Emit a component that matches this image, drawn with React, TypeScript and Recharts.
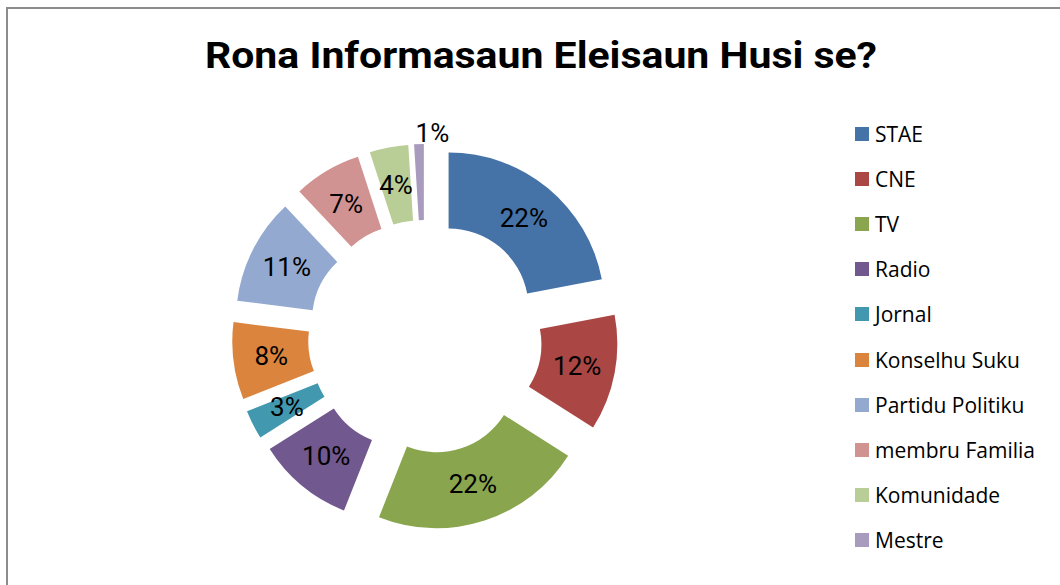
import React from 'react';
import { PieChart, Pie, Cell, Sector, Legend } from 'recharts';

const categories = [
  'STAE',
  'CNE',
  'TV',
  'Radio',
  'Jornal',
  'Konselhu Suku',
  'Partidu Politiku',
  'membru Familia',
  'Komunidade',
  'Mestre',
];
const shares = [22, 12, 22, 10, 3, 8, 11, 7, 4, 1];
const colors = [
  '#4572A7',
  '#AA4643',
  '#89A54E',
  '#71588F',
  '#4198AF',
  '#DB843D',
  '#93A9CF',
  '#D19392',
  '#B9CD96',
  '#A99BBD',
];
const title = 'Rona Informasaun Eleisaun Husi se?';

const data = categories.map((name, i) => ({ name, value: shares[i] }));

const RADIAN = Math.PI / 180;
const EXPLODE = 37;
const labelFont = 'Roboto, "Noto Sans", sans-serif';
const legendFont = '"Open Sans", "Noto Sans", sans-serif';

function offset(midAngle: number, r: number) {
  return {
    dx: r * Math.cos(-midAngle * RADIAN),
    dy: r * Math.sin(-midAngle * RADIAN),
  };
}

// each slice pushed out along its bisector
function ExplodedSlice(props: any) {
  const { dx, dy } = offset(props.midAngle, EXPLODE);
  return (
    <Sector
      cx={props.cx + dx}
      cy={props.cy + dy}
      innerRadius={props.innerRadius}
      outerRadius={props.outerRadius}
      startAngle={props.startAngle}
      endAngle={props.endAngle}
      fill={props.fill}
      stroke="none"
    />
  );
}

function SliceLabel(props: any) {
  const { cx, cy, midAngle, innerRadius, outerRadius, percent } = props;
  const small = percent < 0.02;
  const r = small ? EXPLODE + outerRadius + 11 : EXPLODE + (innerRadius + outerRadius) / 2;
  const { dx, dy } = offset(midAngle, r);
  return (
    <text
      x={small ? cx + dx - 3 : cx + dx}
      y={cy + dy}
      fill="#000"
      textAnchor={small ? 'start' : 'middle'}
      dominantBaseline="central"
      style={{ fontFamily: labelFont, fontSize: 26 }}
    >
      {`${Math.round(percent * 100)}%`}
    </text>
  );
}

function LegendList({ payload }: any) {
  const items = [...(payload || [])].sort(
    (a: any, b: any) => categories.indexOf(a.value) - categories.indexOf(b.value)
  );
  return (
    <ul style={{ listStyle: 'none', margin: 0, padding: 0 }}>
      {items.map((entry: any) => (
        <li
          key={entry.value}
          style={{ display: 'flex', alignItems: 'center', height: 45.2, fontFamily: legendFont, fontSize: 21, color: '#000' }}
        >
          <span style={{ display: 'inline-block', width: 14, height: 14, background: entry.color, marginRight: 6 }} />
          {entry.value}
        </li>
      ))}
    </ul>
  );
}

export default function App() {
  return (
    <div style={{ position: 'absolute', left: 0, top: 0, width: 1060, height: 585, overflow: 'hidden', background: '#fff' }}>
      <div
        style={{
          position: 'absolute',
          left: 6,
          top: 7,
          width: 1100,
          height: 640,
          border: '2px solid #8c8c8c',
        }}
      />
      <svg width={1060} height={100} style={{ position: 'absolute', left: 0, top: 0 }}>
        <text
          x={541}
          y={68}
          textAnchor="middle"
          textLength={672}
          lengthAdjust="spacingAndGlyphs"
          style={{ fontFamily: labelFont, fontWeight: 700, fontSize: 37 }}
          fill="#000"
        >
          {title}
        </text>
      </svg>
      <div style={{ position: 'absolute', left: 0, top: 0 }}>
        <PieChart width={1060} height={585} margin={{ top: 0, right: 0, bottom: 0, left: 0 }}>
          <Pie
            data={data}
            dataKey="value"
            nameKey="name"
            cx={425}
            cy={337}
            innerRadius={80}
            outerRadius={156}
            startAngle={90}
            endAngle={-270}
            stroke="none"
            shape={ExplodedSlice}
            label={SliceLabel}
            labelLine={false}
            isAnimationActive={false}
          >
            {data.map((d, i) => (
              <Cell key={d.name} fill={colors[i]} />
            ))}
          </Pie>
          <Legend
            layout="vertical"
            align="right"
            verticalAlign="top"
            content={LegendList}
            wrapperStyle={{ left: 855, top: 111, width: 200 }}
          />
        </PieChart>
      </div>
    </div>
  );
}
